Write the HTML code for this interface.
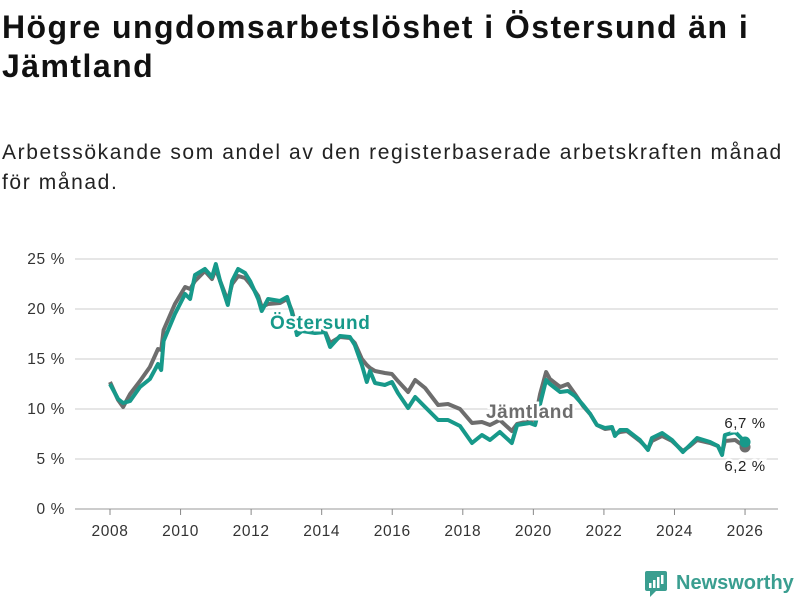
<!DOCTYPE html>
<html><head><meta charset="utf-8"><style>
body{margin:0;width:800px;height:600px;background:#fff;font-family:"Liberation Sans",sans-serif;overflow:hidden;position:relative}
h1{position:absolute;left:2px;top:8px;margin:0;font-size:32px;letter-spacing:1.45px;line-height:39px;font-weight:bold;color:#111;white-space:nowrap}
p{position:absolute;left:2px;top:138px;margin:0;font-size:21px;letter-spacing:1.6px;line-height:30px;color:#222;white-space:nowrap}
svg{position:absolute;left:0;top:0}
</style></head><body>
<h1>Högre ungdomsarbetslöshet i Östersund än i<br>Jämtland</h1>
<p>Arbetssökande som andel av den registerbaserade arbetskraften månad<br>för månad.</p>
<svg id="c" width="800" height="600"></svg>
<script>
const years=[2008.0,2008.23,2008.37,2008.57,2008.85,2009.13,2009.36,2009.45,2009.52,2009.84,2010.13,2010.27,2010.41,2010.69,2010.89,2011.0,2011.12,2011.34,2011.46,2011.63,2011.83,2011.97,2012.2,2012.3,2012.48,2012.82,2013.02,2013.16,2013.3,2013.44,2013.81,2014.09,2014.24,2014.52,2014.8,2014.94,2015.14,2015.28,2015.37,2015.51,2015.79,2015.99,2016.16,2016.45,2016.65,2016.93,2017.3,2017.58,2017.92,2018.26,2018.54,2018.77,2019.05,2019.39,2019.54,2019.9,2020.05,2020.19,2020.36,2020.47,2020.76,2020.98,2021.18,2021.41,2021.61,2021.8,2022.03,2022.23,2022.31,2022.46,2022.65,2023.02,2023.25,2023.36,2023.65,2023.93,2024.24,2024.44,2024.64,2025.01,2025.23,2025.35,2025.43,2025.72,2026.0];
const ostersund=[12.5,11.0,10.6,10.8,12.2,13.0,14.5,13.9,16.8,19.5,21.5,21.0,23.4,24.0,23.2,24.5,22.8,20.4,22.8,24.0,23.6,22.8,21.0,19.8,21.0,20.8,21.2,19.6,17.4,17.8,17.6,17.7,16.2,17.3,17.2,16.4,14.4,12.7,13.8,12.6,12.4,12.7,11.6,10.1,11.2,10.2,8.9,8.9,8.3,6.6,7.4,6.9,7.7,6.6,8.4,8.6,8.4,10.5,12.9,12.5,11.7,11.8,11.3,10.4,9.5,8.4,8.1,8.2,7.3,7.9,7.9,6.9,5.9,7.1,7.6,6.9,5.7,6.4,7.1,6.7,6.3,5.4,7.4,7.7,6.7];
const jamtland=[12.7,10.9,10.2,11.5,12.8,14.2,16.0,15.9,17.9,20.5,22.2,22.0,22.8,23.8,23.0,24.0,22.8,20.8,22.5,23.3,23.1,22.5,21.3,20.2,20.5,20.6,21.0,19.8,17.8,17.9,17.7,17.8,16.6,17.2,17.1,16.6,15.0,14.4,14.1,13.8,13.6,13.5,12.8,11.7,12.9,12.1,10.4,10.5,10.0,8.6,8.7,8.4,8.9,7.8,8.5,8.8,9.0,11.5,13.7,13.0,12.2,12.5,11.5,10.3,9.5,8.4,8.0,8.1,7.5,7.7,7.8,6.8,6.0,6.8,7.3,6.8,5.8,6.3,6.9,6.6,6.3,5.6,6.8,6.9,6.2];
const yTicks=[0,5,10,15,20,25];
const xTicks=[2008,2010,2012,2014,2016,2018,2020,2022,2024,2026];
const X=y=>110+(y-2008)*35.28, Y=v=>509-v*10;
const NS="http://www.w3.org/2000/svg",svg=document.getElementById('c');
function mk(t,a,p){const e=document.createElementNS(NS,t);for(const k in a)e.setAttribute(k,a[k]);(p||svg).appendChild(e);return e;}
yTicks.forEach(v=>{
 const l=mk('line',{x1:75,x2:778,y1:Y(v),y2:Y(v),stroke:v==0?'#bbb':'#ddd','stroke-width':1.5});
 
 
 const t=mk('text',{x:65,y:Y(v)+5,'text-anchor':'end','font-size':15.5,'letter-spacing':0.6,fill:'#333'});t.textContent=v+' %';
 
 
});
xTicks.forEach(v=>{
 const l=mk('line',{x1:X(v),x2:X(v),y1:509,y2:515,stroke:'#888','stroke-width':1});
 
 
 const t=mk('text',{x:X(v),y:536,'text-anchor':'middle','font-size':15.5,'letter-spacing':0.6,fill:'#333'});t.textContent=v;
 
 
});
function line(vals,col,name){
 const d=vals.map((v,i)=>(i?'L':'M')+X(years[i]).toFixed(1)+','+Y(v).toFixed(1)).join('');
 const p=mk('path',{d:d,fill:'none',stroke:col,'stroke-width':4,'stroke-linejoin':'round'});
 
 
 const n=vals.length-1;
 const c=mk('circle',{cx:X(years[n]),cy:Y(vals[n]),r:5.5,fill:col});
 
 
}
line(jamtland,'#6d6d6d','jamtland-line');
line(ostersund,'#17998a','ostersund-line');
function lab(txt,x,y,col,size,w,name,anchor){
 const t=mk('text',{x:x,y:y,'font-size':size,'font-weight':w,fill:col,stroke:'#fff','stroke-width':5,'paint-order':'stroke','text-anchor':anchor||'start','letter-spacing':0.6});t.textContent=txt;
 
 
}
lab('Östersund',270,329,'#17998a',19,'bold','ostersund-label');
lab('Jämtland',486,418,'#6d6d6d',19,'bold','jamtland-label');
const n=years.length-1;
lab(String(ostersund[n]).replace('.',',')+' %',745,Y(ostersund[n])-14,'#222',15,'normal','ostersund-end-value','middle');
lab(String(jamtland[n]).replace('.',',')+' %',745,Y(jamtland[n])+24,'#222',15,'normal','jamtland-end-value','middle');
</script>
<svg width="800" height="600" style="pointer-events:none">
<rect x="645" y="571" width="22" height="20" rx="2" fill="#3a9e90"/>
<polygon points="650,591 656,591 650,597" fill="#3a9e90"/>
<rect x="649" y="583" width="2.5" height="5" fill="#fff"/><rect x="653" y="580" width="2.5" height="8" fill="#fff"/><rect x="657" y="577" width="2.5" height="11" fill="#fff"/><rect x="661" y="575" width="2.5" height="9" fill="#fff"/>
<text x="676" y="589" font-size="20" font-weight="bold" fill="#3a9e90" font-family="Liberation Sans,sans-serif">Newsworthy</text>
</svg>
</body></html>
